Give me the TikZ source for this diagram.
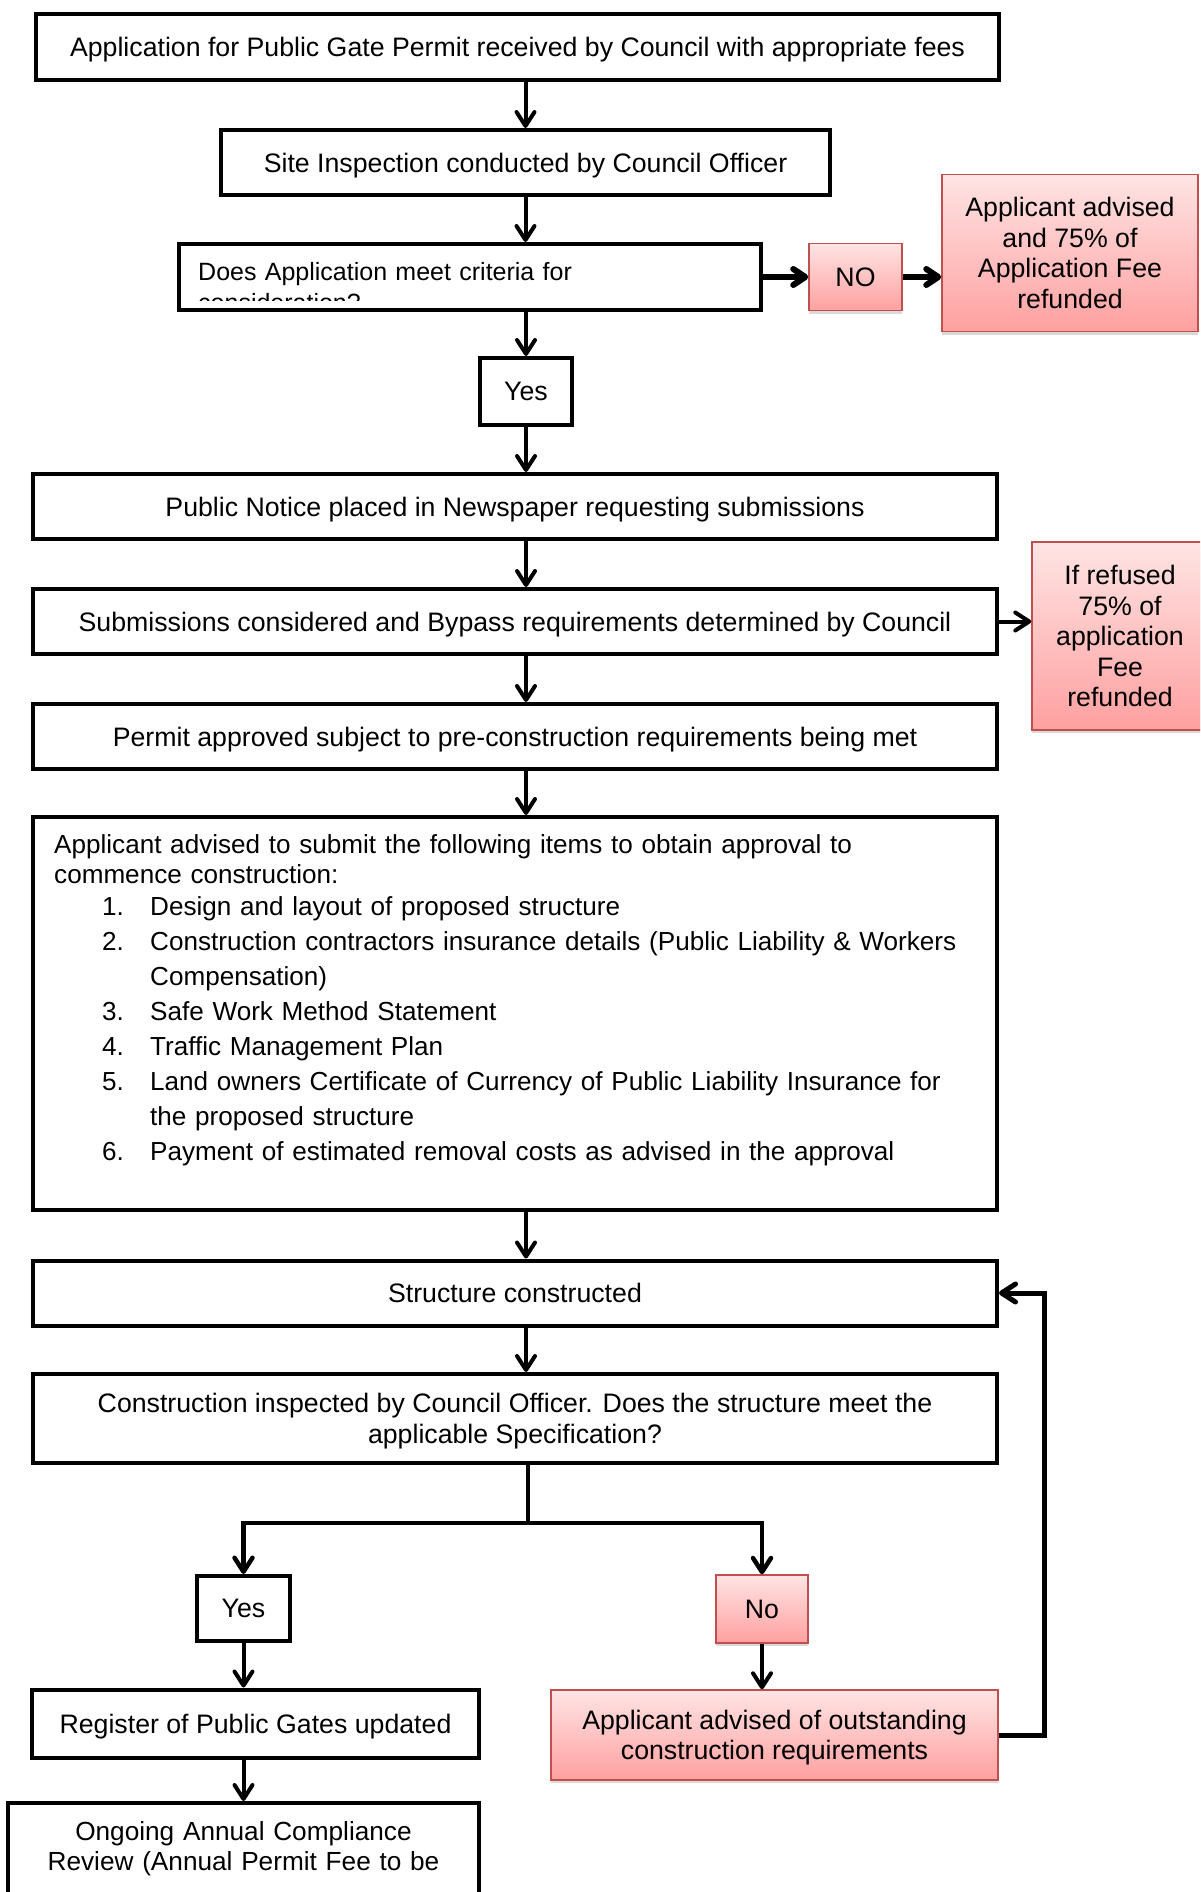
\documentclass[tikz,border=0pt]{standalone}
\usepackage{fontspec}
\setmainfont{Liberation Sans}
\usetikzlibrary{arrows.meta,shadows}
\definecolor{redtop}{RGB}{255,228,228}
\definecolor{redbot}{RGB}{255,160,160}
\definecolor{redline}{RGB}{192,80,77}
\begin{document}
\begin{tikzpicture}[x=1pt,y=-1pt,
    every node/.style={font=\fontsize{26.7}{30.5}\selectfont,inner sep=0pt},
    box/.style={draw,line width=4pt,align=center,text depth=0pt},
    wide/.style={minimum width=964pt,minimum height=65pt},
    redbox/.style={draw=redline,line width=1.5pt,top color=redtop,bottom color=redbot,align=center,text depth=0pt,
        drop shadow={shadow xshift=0pt,shadow yshift=-3pt,opacity=0.3}},
    arr/.style={line width=4pt,-{Straight Barb[length=14pt,width=18pt,round]}},
    arrthick/.style={line width=6pt,-{Straight Barb[length=12pt,width=16pt,round]}},
    branch/.style={line width=4.5pt}]
        \useasboundingbox (0,0) rectangle (1200,1892);
        \clip (0,0) rectangle (1200,1892);
        \node[box,minimum width=963pt,minimum height=66pt] (1) at (517.5,47) {Application for Public Gate Permit received by Council with appropriate fees};
        \node[box,minimum width=609pt,minimum height=65pt] (2) at (525.5,162.5) {Site Inspection conducted by Council Officer};
        \node[box,minimum width=582pt,minimum height=66pt] (3) at (470,277) {};
        \begin{scope}
            \clip (180,246) rectangle (760,300);
            \node[font=\fontsize{25}{31}\selectfont,text width=540pt,align=left,anchor=base west] (3t) at (198,280) {Does Application meet criteria for\\consideration?};
        \end{scope}
        \node[redbox,minimum width=93pt,minimum height=67pt] (4) at (855.5,277) {NO};
        \node[redbox,minimum width=256pt,minimum height=157pt] (5) at (1070,253) {Applicant advised\\and 75\% of\\Application Fee\\refunded};
        \node[box,minimum width=92pt,minimum height=67pt] (6) at (526,391.5) {Yes};
        \node[box,wide] (7) at (515,506.5) {Public Notice placed in Newspaper requesting submissions};
        \node[box,wide] (8) at (515,621.5) {Submissions considered and Bypass requirements determined by Council};
        \node[redbox,minimum width=176pt,minimum height=188pt] (9) at (1120,636) {If refused\\75\% of\\application\\Fee\\refunded};
        \node[box,wide] (10) at (515,736.5) {Permit approved subject to pre-construction requirements being met};
        \node[box,wide,minimum height=393pt] (11) at (515,1013.5) {};
        \node[font=\fontsize{26.1}{30}\selectfont,text width=940pt,align=left,anchor=base west] (11t) at (54,853) {Applicant advised to submit the following items to obtain approval to\\
            commence construction:\\[2pt]
            \hspace*{48pt}\makebox[48pt][l]{1.}Design and layout of proposed structure\\[5pt]
            \hspace*{48pt}\makebox[48pt][l]{2.}Construction contractors insurance details (Public Liability \& Workers\\[5pt]
            \hspace*{96pt}Compensation)\\[5pt]
            \hspace*{48pt}\makebox[48pt][l]{3.}Safe Work Method Statement\\[5pt]
            \hspace*{48pt}\makebox[48pt][l]{4.}Traffic Management Plan\\[5pt]
            \hspace*{48pt}\makebox[48pt][l]{5.}Land owners Certificate of Currency of Public Liability Insurance for\\[5pt]
            \hspace*{96pt}the proposed structure\\[5pt]
            \hspace*{48pt}\makebox[48pt][l]{6.}Payment of estimated removal costs as advised in the approval};
        \node[box,wide] (12) at (515,1293) {Structure constructed};
        \node[box,wide,minimum height=89pt] (13) at (515,1418.5) {Construction inspected by Council Officer. Does the structure meet the\\applicable Specification?};
        \node[box,minimum width=93pt,minimum height=65pt] (14) at (243.5,1608.5) {Yes};
        \node[redbox,minimum width=92pt,minimum height=68pt] (15) at (762,1609) {No};
        \node[box,minimum width=447pt,minimum height=68pt] (16) at (255.5,1723.5) {Register of Public Gates updated};
        \node[redbox,minimum width=447pt,minimum height=90pt] (17) at (774.5,1735) {Applicant advised of outstanding\\construction requirements};
        \node[box,minimum width=471pt,minimum height=130pt] (18) at (243.5,1868) {};
        \node[font=\fontsize{26.2}{30}\selectfont,text width=460pt,align=center,anchor=base] (18t) at (243.5,1840) {Ongoing Annual Compliance\\Review (Annual Permit Fee to be};
        \coordinate (b) at (528,1523);
        \coordinate (c) at (1044,1293);
        \draw[arr] (2.north |- 1.south) -- (2.north);
        \draw[arr] (2.south) -- (2.south |- 3.north);
        \draw[arrthick] (3.east) -- (4.west);
        \draw[arrthick] (4.east) -- (4.east -| 5.west);
        \draw[arr] (6.north |- 3.south) -- (6.north);
        \draw[arr] (6.south) -- (6.south |- 7.north);
        \draw[arr] (6 |- 7.south) -- (6 |- 8.north);
        \draw[arr] (8.east) -- (8.east -| 9.west);
        \draw[arr] (6 |- 8.south) -- (6 |- 10.north);
        \draw[arr] (6 |- 10.south) -- (6 |- 11.north);
        \draw[arr] (6 |- 11.south) -- (6 |- 12.north);
        \draw[arr] (6 |- 12.south) -- (6 |- 13.north);
        \draw[branch] (b |- 13.south) -- (b);
        \draw[arr,line width=4.5pt] (b) -| (14.north);
        \draw[arr,line width=4.5pt] (b) -| (15.north);
        \draw[arr] (14.south) -- (14.south |- 16.north);
        \draw[arr] (14 |- 16.south) -- (14 |- 18.north);
        \draw[arr] (15.south) -- (15.south |- 17.north);
        \draw[arr,line width=5pt] (17.east) -| (c) -- (12.east);
    \end{tikzpicture}
\end{document}
